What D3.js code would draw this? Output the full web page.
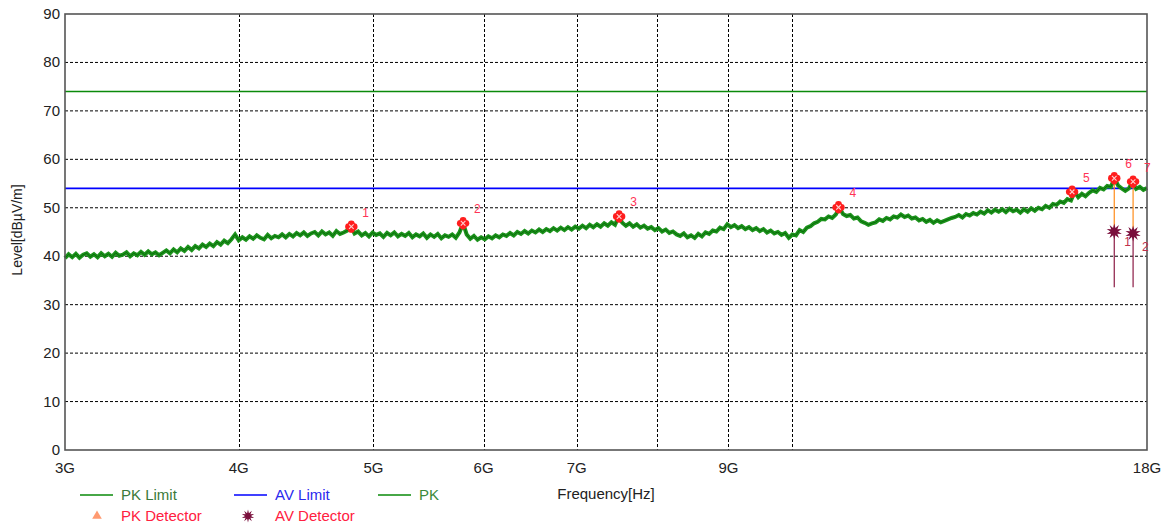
<!DOCTYPE html>
<html><head><meta charset="utf-8">
<script src="https://cdn.jsdelivr.net/npm/d3@7"></script>
<style>body{margin:0;background:#fff}svg{display:block;font-family:"Liberation Sans",Arial,sans-serif}</style>
</head><body><svg id="c" width="1169" height="525"></svg>
<script>
// ---- data ----
const yTicks = [0,10,20,30,40,50,60,70,80,90];
const xGridFreqs = [4e9,5e9,6e9,7e9,8e9,9e9,10e9];
const xTickFreqs = [3e9,4e9,5e9,6e9,7e9,9e9,18e9];
const xTickLabels = ["3G","4G","5G","6G","7G","9G","18G"];
const pkLimit = 74;
const avLimit = 54;
const sweepStart = 3e9, sweepStop = 18e9;
const pkLevels = [
39.6,40.4,39.8,40.5,39.7,40.3,40.6,39.9,40.4,39.8,
40.6,40.0,40.5,39.9,40.7,40.1,40.3,40.8,40.0,40.6,
40.2,40.9,40.3,41.0,40.4,40.8,40.2,40.7,41.2,40.6,
41.4,40.8,41.6,41.1,41.9,41.3,42.1,41.6,42.4,41.9,
42.6,42.1,42.9,42.4,43.2,42.7,43.5,44.5,43.3,43.9,
43.4,44.1,43.6,44.3,43.8,43.5,44.4,43.7,44.2,43.9,
44.5,43.9,44.6,44.1,44.8,44.3,44.9,44.2,44.7,45.0,
44.3,45.1,44.5,44.9,44.2,45.2,44.6,44.9,45.3,46.1,
44.7,45.1,44.3,44.8,44.1,44.9,44.4,44.7,44.0,44.8,
44.3,44.9,44.1,44.6,44.2,44.8,43.9,44.5,44.1,44.7,
43.8,44.5,44.0,44.6,43.7,44.3,44.0,44.5,43.8,44.9,
46.8,44.5,43.6,44.2,43.4,43.9,43.5,44.1,43.7,44.3,
43.9,44.5,44.2,44.8,44.3,45.0,44.6,45.2,44.7,45.3,
44.9,45.5,45.0,45.6,45.2,45.8,45.3,45.9,45.4,46.0,
45.5,46.1,45.7,46.3,45.8,46.5,46.0,46.6,46.1,46.8,
46.3,47.0,46.5,48.2,46.9,46.3,46.8,46.1,46.6,45.9,
46.3,45.7,46.0,45.4,45.8,45.1,45.5,44.8,45.1,44.5,
44.2,44.7,43.9,44.3,43.8,44.6,44.1,44.9,44.6,45.3,
45.1,45.9,45.6,46.6,46.0,46.4,45.8,46.2,45.6,46.0,
45.4,45.8,45.2,45.6,44.9,45.3,44.7,45.0,44.4,44.8,
43.8,44.5,44.3,45.4,45.0,45.9,46.2,46.8,47.1,47.7,
47.6,48.2,47.9,48.6,50.1,48.7,48.3,48.5,47.8,48.0,
47.2,46.9,46.5,46.8,47.0,47.6,47.3,47.9,47.6,48.2,
48.0,48.6,48.1,48.4,47.8,48.0,47.4,47.7,47.1,47.5,
46.9,47.4,47.0,47.3,47.6,47.9,48.1,48.5,48.0,48.7,
48.4,48.9,48.6,49.2,48.8,49.5,49.0,49.6,49.2,49.7,
49.1,49.8,49.3,49.6,49.0,49.7,49.2,49.9,49.4,50.0,
49.7,50.4,50.0,50.8,50.6,51.3,51.0,51.8,51.5,53.3,
52.2,52.9,52.4,53.1,53.6,53.3,54.1,53.8,54.5,54.3,
56.1,54.6,54.0,53.5,54.0,55.4,53.9,54.3,53.7,54.1
];
const pkMarkerFreq  = [4.82e9,5.80e9,7.51e9,10.80e9,15.90e9,17.05e9,17.59e9];
const pkMarkerLevel = [46.1,46.8,48.2,50.1,53.3,56.1,55.4];
const pkMarkerLabel = ["1","2","3","4","5","6","7"];
const avMarkerFreq  = [17.05e9,17.59e9];
const avMarkerLevel = [45.1,44.7];
const avMarkerLabel = ["1","2"];
const avStemBottom = 33.6;

// ---- chart ----
const svg = d3.select("#c");
const L=65,R=1147,T=14,B=450;
const x = d3.scaleLog().domain([sweepStart,sweepStop]).range([L,R]);
const y = d3.scaleLinear().domain([0,90]).range([B,T]);
const sweepFreqs = pkLevels.map((_,i)=> sweepStart*Math.pow(sweepStop/sweepStart, i/(pkLevels.length-1)));

// grid
svg.append("g").selectAll("line").data(yTicks.filter(v=>v>0&&v<90)).join("line")
  .attr("x1",L).attr("x2",R).attr("y1",d=>y(d)).attr("y2",d=>y(d))
  .attr("stroke","#000").attr("stroke-width",1).attr("stroke-dasharray","3,2");
svg.append("g").selectAll("line").data(xGridFreqs).join("line")
  .attr("x1",d=>Math.round(x(d))+0.5).attr("x2",d=>Math.round(x(d))+0.5).attr("y1",T).attr("y2",B)
  .attr("stroke","#000").attr("stroke-width",1).attr("stroke-dasharray","3,2");

// limits
svg.append("line").attr("x1",L).attr("x2",R).attr("y1",y(pkLimit)).attr("y2",y(pkLimit))
  .attr("stroke","#0a8a0a").attr("stroke-width",1.6);
svg.append("line").attr("x1",L).attr("x2",R).attr("y1",y(avLimit)).attr("y2",y(avLimit))
  .attr("stroke","#0000ff").attr("stroke-width",1.6);

// trace
const line = d3.line().x((d,i)=>x(sweepFreqs[i])).y(d=>y(d));
svg.append("path").datum(pkLevels).attr("d",line).attr("fill","none")
  .attr("stroke","#1c931c").attr("stroke-width",4).attr("stroke-linejoin","miter").attr("stroke-miterlimit",6);
svg.append("path").datum(pkLevels).attr("d",line).attr("fill","none")
  .attr("stroke","#0a6a0a").attr("stroke-width",1);

// border
svg.append("rect").attr("x",L).attr("y",T).attr("width",R-L).attr("height",B-T)
  .attr("fill","none").attr("stroke","#555").attr("stroke-width",1.6);

// stems
const g = svg.append("g");
avMarkerFreq.forEach((f,i)=>{
  const pkIdx = pkMarkerFreq.indexOf(f);
  g.append("line").attr("x1",x(f)).attr("x2",x(f)).attr("y1",y(pkMarkerLevel[pkIdx])).attr("y2",y(avMarkerLevel[i]))
    .attr("stroke","#ff8c1a").attr("stroke-width",1.2);
  g.append("line").attr("x1",x(f)).attr("x2",x(f)).attr("y1",y(avMarkerLevel[i])).attr("y2",y(avStemBottom))
    .attr("stroke","#8b1a44").attr("stroke-width",1.2);
});

// PK markers (red clover with white cross)
function clover(sel, cx, cy, s){
  const m = sel.append("g").attr("transform",`translate(${cx},${cy})`);
  [[-1,0],[1,0],[0,-1],[0,1]].forEach(([a,b])=>m.append("circle").attr("cx",a*2.8*s).attr("cy",b*2.8*s).attr("r",3.4*s).attr("fill","#ff1e1e"));
  m.append("circle").attr("r",3.5*s).attr("fill","#ff1e1e");
  m.append("path").attr("d",`M${-2.3*s},${-2.3*s}L${2.3*s},${2.3*s}M${2.3*s},${-2.3*s}L${-2.3*s},${2.3*s}`)
    .attr("stroke","#ffd0d0").attr("stroke-width",1.1*s);
}
pkMarkerFreq.forEach((f,i)=>{
  clover(g, x(f), y(pkMarkerLevel[i]), 1);
  g.append("text").attr("x",x(f)+11).attr("y",y(pkMarkerLevel[i])-10).text(pkMarkerLabel[i])
    .attr("font-size",12).attr("fill","#ff3355");
});

// AV markers (starburst)
function star(n, ro, ri){
  const pts=[];
  for(let k=0;k<2*n;k++){const r=k%2?ri:ro;const a=Math.PI*k/n - Math.PI/2;pts.push([r*Math.cos(a),r*Math.sin(a)]);}
  return "M"+pts.map(p=>p.join(",")).join("L")+"Z";
}
avMarkerFreq.forEach((f,i)=>{
  g.append("path").attr("d",star(10,8,3.8)).attr("transform",`translate(${x(f)},${y(avMarkerLevel[i])})`).attr("fill","#7a0f3c");
  g.append("text").attr("x",x(f)+(i===0?10:9)).attr("y",y(avMarkerLevel[i])+(i===0?14:18)).text(avMarkerLabel[i])
    .attr("font-size",12).attr("fill","#c0304a");
});

// axes labels
svg.append("g").selectAll("text").data(yTicks).join("text")
  .attr("x",L-5).attr("y",d=>y(d)+5).attr("text-anchor","end").attr("font-size",15).attr("fill","#222").text(d=>d);
svg.append("g").selectAll("text").data(xTickFreqs).join("text")
  .attr("x",(d,i)=>x(d)).attr("y",473).attr("text-anchor","middle").attr("font-size",15).attr("fill","#222").text((d,i)=>xTickLabels[i]);
svg.append("text").attr("transform","translate(22,230) rotate(-90)").attr("text-anchor","middle")
  .attr("font-size",14).attr("fill","#222").text("Level[dBµV/m]");
svg.append("text").attr("x",606).attr("y",499).attr("text-anchor","middle").attr("font-size",15).attr("fill","#222").text("Frequency[Hz]");

// legend
const lg = svg.append("g").attr("font-size",15);
function legLine(x0,yy,col,label,tcol){
  lg.append("line").attr("x1",x0).attr("x2",x0+33).attr("y1",yy).attr("y2",yy).attr("stroke",col).attr("stroke-width",1.6);
  lg.append("text").attr("x",x0+41).attr("y",yy+5).attr("fill",tcol).text(label);
}
legLine(80,495,"#0a8a0a","PK Limit","#3a7a3a");
legLine(234,495,"#0000ff","AV Limit","#2a2aee");
legLine(378,495,"#0a8a0a","PK","#3a8a3a");
lg.append("path").attr("d",d3.symbol(d3.symbolTriangle,40)()).attr("transform","translate(97,516)").attr("fill","#ff9a70");
lg.append("text").attr("x",121).attr("y",521).attr("fill","#ff2040").text("PK Detector");
lg.append("path").attr("d",star(10,6.5,3)).attr("transform","translate(248,516)").attr("fill","#7a0f3c");
lg.append("text").attr("x",275).attr("y",521).attr("fill","#ff2040").text("AV Detector");
</script></body></html>
